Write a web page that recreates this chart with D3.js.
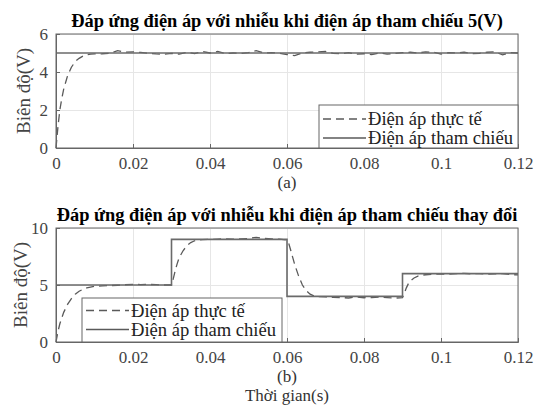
<!DOCTYPE html>
<html>
<head>
<meta charset="utf-8">
<style>
body { margin: 0; background: #fff; }
svg { display: block; }
.grid line { stroke: #e6e6e6; }
.grid .domain { display: none; }
.axis line, .axis .domain { stroke: #666; }
</style>
</head>
<body>
<svg width="536" height="406"></svg>
<script src="https://d3js.org/d3.v7.min.js"></script>
<script>
// --- data ---
var xTicks = [0, 0.02, 0.04, 0.06, 0.08, 0.1, 0.12];
var yTicksA = [0, 2, 4, 6];
var yTicksB = [0, 5, 10];

// (a) reference 5 V
var refTA = [0, 0.12];
var refVA = [5, 5];
// (a) measured
var actTA = [0, 0.0005, 0.001, 0.0015, 0.002, 0.003, 0.004, 0.005, 0.006, 0.007, 0.008, 0.009, 0.010,
  0.012, 0.014, 0.016, 0.018, 0.020, 0.022, 0.024, 0.026, 0.028, 0.030, 0.032, 0.034, 0.036, 0.038,
  0.040, 0.042, 0.044, 0.046, 0.048, 0.050, 0.052, 0.054, 0.056, 0.058, 0.060, 0.062, 0.064, 0.066,
  0.068, 0.070, 0.072, 0.074, 0.076, 0.078, 0.080, 0.082, 0.084, 0.086, 0.088, 0.090, 0.092, 0.094,
  0.096, 0.098, 0.100, 0.102, 0.104, 0.106, 0.108, 0.110, 0.112, 0.114, 0.116, 0.118, 0.120];
var actVA = [0, 1.1, 2.0, 2.6, 3.1, 3.8, 4.25, 4.55, 4.72, 4.84, 4.9, 4.94, 4.95,
  4.96, 4.98, 5.12, 5.04, 5.06, 5.03, 4.98, 4.95, 4.93, 4.98, 4.94, 5.04, 4.97, 5.08,
  5.0, 5.08, 4.97, 5.0, 4.98, 5.02, 5.12, 5.0, 5.02, 4.98, 4.92, 4.86, 5.0, 5.04,
  5.06, 5.08, 4.98, 4.96, 5.02, 4.94, 4.96, 4.92, 5.0, 4.94, 4.98, 5.02, 5.04, 5.0,
  5.06, 5.04, 4.94, 5.02, 5.0, 5.04, 4.96, 4.98, 5.04, 5.06, 4.9, 5.02, 5.0];

// (b) reference steps
var refTB = [0, 0.03, 0.03, 0.06, 0.06, 0.09, 0.09, 0.12];
var refVB = [5, 5, 9, 9, 4, 4, 6, 6];
// (b) measured
var actTB = [0, 0.0005, 0.001, 0.002, 0.003, 0.004, 0.005, 0.006, 0.007, 0.008, 0.010, 0.012, 0.014,
  0.016, 0.018, 0.020, 0.022, 0.024, 0.026, 0.028, 0.030,
  0.0305, 0.031, 0.0315, 0.032, 0.033, 0.034, 0.035, 0.036, 0.037, 0.038, 0.040, 0.042, 0.044,
  0.046, 0.048, 0.050, 0.052, 0.054, 0.056, 0.058, 0.060,
  0.0605, 0.061, 0.0615, 0.062, 0.063, 0.064, 0.065, 0.066, 0.067, 0.068, 0.070, 0.072, 0.074,
  0.076, 0.078, 0.080, 0.082, 0.084, 0.086, 0.088, 0.090,
  0.0905, 0.091, 0.0915, 0.092, 0.093, 0.094, 0.095, 0.096, 0.098, 0.100, 0.102, 0.104, 0.106,
  0.108, 0.110, 0.112, 0.114, 0.116, 0.118, 0.120];
var actVB = [0, 0.9, 1.6, 2.6, 3.3, 3.8, 4.2, 4.45, 4.62, 4.75, 4.88, 4.92, 4.95,
  4.98, 5.02, 5.06, 5.04, 5.05, 5.03, 5.0, 5.0,
  5.6, 6.3, 6.9, 7.4, 8.0, 8.45, 8.72, 8.88, 8.95, 8.98, 9.0, 9.02, 9.05,
  9.02, 9.04, 9.08, 9.18, 9.1, 9.05, 9.02, 8.95,
  8.6, 8.0, 7.4, 6.8, 5.8, 5.0, 4.5, 4.2, 4.05, 3.98, 3.95, 3.92, 3.9,
  3.86, 3.95, 3.88, 3.9, 3.95, 3.9, 3.85, 3.9,
  4.3, 4.75, 5.1, 5.35, 5.62, 5.78, 5.86, 5.9, 5.95, 5.97, 5.96, 6.0, 6.02,
  5.98, 6.0, 5.96, 5.98, 6.0, 5.92, 5.88];

var labelA = "Điện áp thực tế", labelB = "Điện áp tham chiếu";

var FONT = "Liberation Serif";
var DASH = "8,5";
var svg = d3.select("svg").attr("font-family", FONT);
var left = 56, right = 518;

var x = d3.scaleLinear().domain([0, 0.12]).range([left, right]);

function panel(opt) {
  var y = d3.scaleLinear().domain(opt.yDomain).range([opt.bottom, opt.top]);
  var g = svg.append("g").attr("font-family", FONT);
  var w = right - left, h = opt.bottom - opt.top;

  // grid
  g.append("g").attr("class", "grid")
      .attr("transform", "translate(0," + opt.bottom + ")")
      .call(d3.axisBottom(x).tickValues(xTicks).tickSize(-h).tickFormat(""));
  g.append("g").attr("class", "grid")
      .attr("transform", "translate(" + left + ",0)")
      .call(d3.axisLeft(y).tickValues(opt.yTicks).tickSize(-w).tickFormat(""));

  // lines
  var line = d3.line().x(function(d) { return x(d[0]); }).y(function(d) { return y(d[1]); });
  g.append("path")
      .datum(d3.zip(opt.actT, opt.actV))
      .attr("fill", "none").attr("stroke", "#5a5a5a").attr("stroke-width", 1.3)
      .attr("stroke-dasharray", DASH)
      .attr("d", line);
  g.append("path")
      .datum(d3.zip(opt.refT, opt.refV))
      .attr("fill", "none").attr("stroke", "#6a6a6a").attr("stroke-width", 1.6)
      .attr("d", line);

  // axes
  var ax = g.append("g").attr("class", "axis")
      .attr("transform", "translate(0," + opt.bottom + ")")
      .call(d3.axisBottom(x).tickValues(xTicks).tickSize(-4).tickPadding(9)
        .tickFormat(function(d) { return d3.format("~g")(d); }));
  var ay = g.append("g").attr("class", "axis")
      .attr("transform", "translate(" + left + ",0)")
      .call(d3.axisLeft(y).tickValues(opt.yTicks).tickSize(-4).tickPadding(8).tickFormat(d3.format("d")));
  [ax, ay].forEach(function(a) {
    a.attr("font-family", FONT).attr("font-size", 17);
    a.selectAll("text").attr("fill", "#444");
  });
  g.append("rect")
      .attr("x", left).attr("y", opt.top).attr("width", w).attr("height", h)
      .attr("fill", "none").attr("stroke", "#666").attr("stroke-width", 1);

  // title
  g.append("text")
      .attr("x", (left + right) / 2).attr("y", opt.top - 7)
      .attr("text-anchor", "middle").attr("font-weight", "bold").attr("font-size", 18.4)
      .text(opt.title);
  // y label
  g.append("text")
      .attr("transform", "translate(" + opt.ylabelX + "," + (opt.top + h / 2) + ") rotate(-90)")
      .attr("text-anchor", "middle").attr("font-size", 19).attr("fill", "#444")
      .text("Biên độ(V)");
  // sub caption
  g.append("text")
      .attr("x", (left + right) / 2).attr("y", opt.bottom + 40)
      .attr("text-anchor", "middle").attr("font-size", 17).attr("fill", "#333")
      .text(opt.caption);

  // legend
  var lg = g.append("g").attr("transform", "translate(" + opt.legend[0] + "," + opt.legend[1] + ")");
  lg.append("rect").attr("width", opt.legend[2]).attr("height", opt.bottom - opt.legend[1])
      .attr("fill", "#fff").attr("stroke", "#666");
  var items = [[labelA, DASH], [labelB, null]];
  items.forEach(function(it, i) {
    var cy = opt.legend[3] + i * 19;
    lg.append("line").attr("x1", 4).attr("x2", 47).attr("y1", cy).attr("y2", cy)
        .attr("stroke", "#5a5a5a").attr("stroke-width", 1.4)
        .attr("stroke-dasharray", it[1]);
    lg.append("text").attr("x", 49).attr("y", cy).attr("dy", "0.33em")
        .attr("font-size", 18.6).attr("fill", "#222").text(it[0]);
  });
}

panel({
  top: 34, bottom: 148, yDomain: [0, 6], yTicks: yTicksA,
  actT: actTA, actV: actVA, refT: refTA, refV: refVA,
  title: "Đáp ứng điện áp với nhiễu khi điện áp tham chiếu 5(V)",
  caption: "(a)", legend: [319, 105, 199, 14], ylabelX: 30
});
panel({
  top: 228, bottom: 342, yDomain: [0, 10], yTicks: yTicksB,
  actT: actTB, actV: actVB, refT: refTB, refV: refVB,
  title: "Đáp ứng điện áp với nhiễu khi điện áp tham chiếu thay đổi",
  caption: "(b)", legend: [82, 298, 200, 12.5], ylabelX: 27
});

svg.append("text")
    .attr("x", (left + right) / 2).attr("y", 401)
    .attr("text-anchor", "middle").attr("font-size", 17).attr("fill", "#333")
    .text("Thời gian(s)");
</script>
</body>
</html>
